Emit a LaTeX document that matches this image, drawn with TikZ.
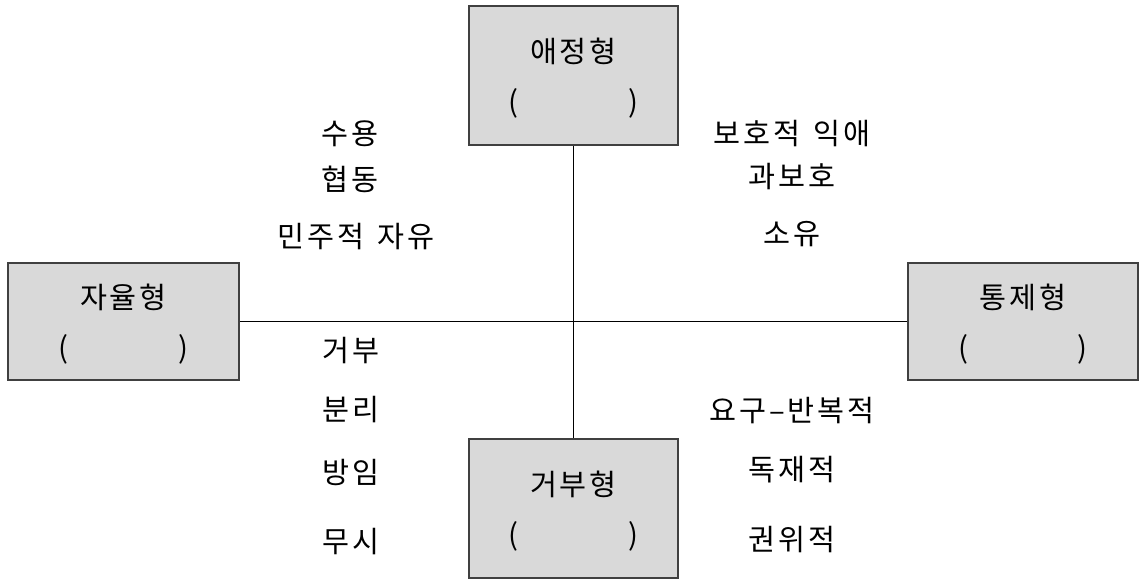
\documentclass[tikz,border=0pt]{standalone}
\usepackage{fontspec}
\setmainfont{Noto Sans CJK KR}
\newfontfamily\korfont[LetterSpace=10]{Noto Sans CJK KR}
\begin{document}
\begin{tikzpicture}[x=0.75pt,y=-0.75pt,
  typebox/.style={draw=black!75, line width=1.8pt, fill=black!15, rectangle, inner sep=0pt},
  boxtext/.style={align=center, inner sep=0pt, yshift=-2.2pt, font=\korfont\fontsize{22}{37.5}\selectfont},
  lbl/.style={font=\korfont\fontsize{22}{25}\selectfont, inner sep=0pt},
  axis/.style={draw=black, line width=0.8pt}]
\useasboundingbox (0,0) rectangle (1139,579);
% boxes
\node[typebox, minimum width=156.75pt, minimum height=104.25pt,
  label={[boxtext]center:애정형\\(\hspace{82pt})}] (top) at (573.5,75.5) {};
\node[typebox, minimum width=156.75pt, minimum height=104.25pt,
  label={[boxtext]center:거부형\\(\hspace{82pt})}] (bot) at (573.5,508.5) {};
\node[typebox, minimum width=173.25pt, minimum height=87.75pt,
  label={[boxtext]center:자율형\\(\hspace{82pt})}] (left) at (123.5,321.5) {};
\node[typebox, minimum width=172.5pt, minimum height=87.75pt,
  label={[boxtext]center:통제형\\(\hspace{82pt})}] (right) at (1023,321.5) {};
% axes
\draw[axis] (top.south) -- (bot.north);
\draw[axis] (left.east) -- (right.west);
% labels upper left
\node[lbl] (l1) at (350,134) {수용};
\node[lbl] (l2) at (350,179) {협동};
\node[lbl] (l3) at (356,237) {민주적\hspace{0.45em}자유};
% upper right
\node[lbl] (r1) at (792,134) {보호적\hspace{0.45em}익애};
\node[lbl] (r2) at (792,177) {과보호};
\node[lbl] (r3) at (792,234) {소유};
% lower left
\node[lbl] (b1) at (351,351) {거부};
\node[lbl] (b2) at (351,410) {분리};
\node[lbl] (b3) at (351,472) {방임};
\node[lbl] (b4) at (351,542) {무시};
% lower right
\node[lbl] (c1) at (792,411) {요구–반복적};
\node[lbl] (c2) at (792,470) {독재적};
\node[lbl] (c3) at (792,540) {권위적};
\end{tikzpicture}
\end{document}
